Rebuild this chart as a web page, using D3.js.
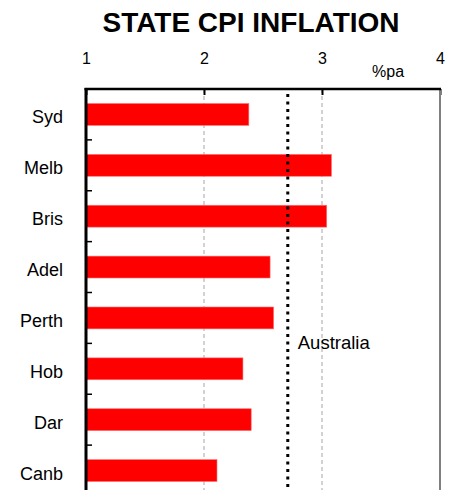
<!DOCTYPE html>
<html>
<head>
<meta charset="utf-8">
<script src="https://cdn.jsdelivr.net/npm/d3@7"></script>
<style>
  body { margin: 0; background: #fff; }
  text { font-family: "Liberation Sans", Arial, sans-serif; fill: #000; }
</style>
</head>
<body>
<svg id="chart"></svg>
<script>
const states = ["Syd", "Melb", "Bris", "Adel", "Perth", "Hob", "Dar", "Canb"];
const inflation = [2.38, 3.08, 3.04, 2.56, 2.59, 2.33, 2.40, 2.11];
const australia = 2.71;
const xTicks = [1, 2, 3, 4];

const w = 453;
const h = 490;
const plotLeft = 86, plotRight = 440, plotTop = 89, plotBottom = 496;

let svg = d3.select("#chart")
	.attr("width", w)
	.attr("height", h);

let x = d3.scaleLinear()
	.domain([1, 4])
	.range([plotLeft, plotRight]);

let y = d3.scaleBand()
	.domain(states)
	.range([plotTop, plotBottom])
	.paddingInner(0.57)
	.paddingOuter(0.285);

/* title */
svg.append("text")
	.attr("x", 251)
	.attr("y", 32)
	.attr("text-anchor", "middle")
	.style("font-size", "28px")
	.style("font-weight", "bold")
	.text("STATE CPI INFLATION");

/* grid lines */
svg.append("g")
	.selectAll("line")
	.data(xTicks.slice(1, 3))
	.enter()
	.append("line")
	.attr("x1", d => x(d))
	.attr("x2", d => x(d))
	.attr("y1", plotTop)
	.attr("y2", plotBottom)
	.attr("stroke", "#c4c4c4")
	.attr("stroke-width", 1.5)
	.attr("stroke-dasharray", "4,3");

/* bars */
svg.append("g")
	.selectAll("rect")
	.data(states)
	.enter()
	.append("rect")
	.attr("x", x(1))
	.attr("y", d => y(d))
	.attr("width", (d, i) => x(inflation[i]) - x(1))
	.attr("height", y.bandwidth())
	.attr("fill", "#ff0000")
	.attr("stroke", "#ff7070")
	.attr("stroke-width", 0.6);

/* Australia line */
svg.append("line")
	.attr("x1", x(australia))
	.attr("x2", x(australia))
	.attr("y1", plotTop + 5)
	.attr("y2", plotBottom)
	.attr("stroke", "#000")
	.attr("stroke-width", 3)
	.attr("stroke-dasharray", "3,4.5");

svg.append("text")
	.attr("x", x(australia) + 10)
	.attr("y", y("Hob") - (y.step() - y.bandwidth()) / 2 + 6)
	.style("font-size", "18.5px")
	.text("Australia");

/* top axis */
let xAxis = d3.axisTop(x)
	.tickValues(xTicks)
	.tickFormat(d3.format("d"))
	.tickSizeInner(-6)
	.tickSizeOuter(0)
	.tickPadding(25);

let gx = svg.append("g")
	.attr("transform", `translate(0,${plotTop})`)
	.call(xAxis);
gx.select(".domain").remove();
gx.selectAll(".tick line").attr("stroke", "#000").attr("stroke-width", 2);
gx.selectAll(".tick text")
	.style("font-size", "16px")
	.style("font-family", "Liberation Sans, Arial, sans-serif")
	.attr("fill", "#000");

svg.append("text")
	.attr("x", 372)
	.attr("y", 77)
	.style("font-size", "16px")
	.text("%pa");

/* frame */
svg.append("line")
	.attr("x1", plotRight)
	.attr("x2", plotRight)
	.attr("y1", plotTop)
	.attr("y2", plotBottom)
	.attr("stroke", "#808080")
	.attr("stroke-width", 2);

svg.append("line")
	.attr("x1", plotLeft - 1.5)
	.attr("x2", plotRight + 1)
	.attr("y1", plotTop)
	.attr("y2", plotTop)
	.attr("stroke", "#000")
	.attr("stroke-width", 2.5);

/* left axis */
let yAxis = d3.axisLeft(y)
	.tickSize(0)
	.tickPadding(23);

let gy = svg.append("g")
	.attr("transform", `translate(${plotLeft},0)`)
	.call(yAxis);
gy.select(".domain").remove();
gy.selectAll(".tick text")
	.attr("dy", "0.5em")
	.style("font-size", "18px")
	.style("font-family", "Liberation Sans, Arial, sans-serif")
	.attr("fill", "#000");

svg.append("g")
	.selectAll("line")
	.data(states.slice(1))
	.enter()
	.append("line")
	.attr("x1", plotLeft)
	.attr("x2", plotLeft + 6)
	.attr("y1", d => y(d) - (y.step() - y.bandwidth()) / 2)
	.attr("y2", d => y(d) - (y.step() - y.bandwidth()) / 2)
	.attr("stroke", "#000")
	.attr("stroke-width", 1.5);

svg.append("line")
	.attr("x1", plotLeft)
	.attr("x2", plotLeft)
	.attr("y1", plotTop - 1)
	.attr("y2", plotBottom)
	.attr("stroke", "#000")
	.attr("stroke-width", 3);
</script>
</body>
</html>
